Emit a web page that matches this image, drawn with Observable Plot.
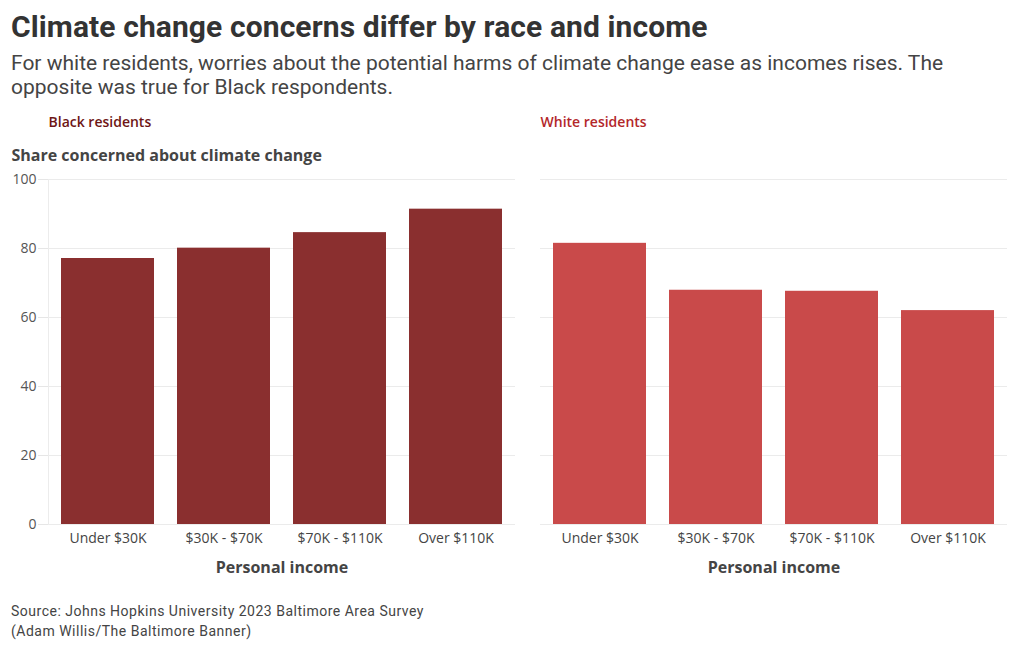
<!DOCTYPE html>
<html>
<head>
<meta charset="utf-8">
<script src="https://cdn.jsdelivr.net/npm/d3@7"></script>
<script src="https://cdn.jsdelivr.net/npm/@observablehq/plot@0.6"></script>
<style>
  html, body { margin: 0; padding: 0; background: #fff; }
  #wrap { width: 1020px; height: 650px; position: relative; }
  #title { position: absolute; left: 11px; top: 9px; font-family: Roboto, sans-serif; font-weight: 700; font-size: 30px; line-height: 36px; color: #333; letter-spacing: 0.1px; white-space: nowrap; }
  #subtitle { position: absolute; left: 11px; top: 51px; font-family: Roboto, sans-serif; font-size: 21px; line-height: 24px; color: #444; white-space: nowrap; }
  #chart { position: absolute; left: 0; top: 105px; width: 1020px; height: 480px; }
  #source { position: absolute; left: 11px; top: 601px; font-family: Roboto, sans-serif; font-size: 14px; line-height: 20px; color: #444; letter-spacing: 0.5px; }
</style>
</head>
<body>
<div id="wrap">
  <div id="title">Climate change concerns differ by race and income</div>
  <div id="subtitle">For white residents, worries about the potential harms of climate change ease as incomes rises. The<br>opposite was true for Black respondents.</div>
  <div id="chart"></div>
  <div id="source">Source: Johns Hopkins University 2023 Baltimore Area Survey<br>(Adam Willis/The Baltimore Banner)</div>
</div>
<script>
const groups = ["Black residents", "White residents"];
const incomes = ["Under $30K", "$30K - $70K", "$70K - $110K", "Over $110K"];
const blackValues = [77.1, 80.1, 84.6, 91.4];
const whiteValues = [81.5, 67.9, 67.6, 62.0];
const yTicks = [0, 20, 40, 60, 80, 100];
const yLabel = "Share concerned about climate change";
const xLabel = "Personal income";

const blackRows = incomes.map((income, i) => ({group: groups[0], income, value: blackValues[i]}));
const whiteRows = incomes.map((income, i) => ({group: groups[1], income, value: whiteValues[i]}));

const BLACK_BAR = "#8a2f2f";
const WHITE_BAR = "#c94a4a";

function build(withFrame) {
  const marks = [
    Plot.gridY(yTicks, {stroke: "#ebebeb", strokeOpacity: 1}),
    Plot.barY(blackRows, {fx: "group", x: "income", y: "value", fill: BLACK_BAR}),
    Plot.barY(whiteRows, {fx: "group", x: "income", y: "value", fill: WHITE_BAR}),
    Plot.axisY(yTicks, {tickSize: 10, tickPadding: 2, stroke: "#e6e6e6", fill: "#555", fontSize: 14, label: null}),
    Plot.axisX({tickSize: 0, tickPadding: 9, fill: "#444", fontSize: 14, label: null}),
    Plot.text([groups[0]], {fx: d => d, text: d => d, frameAnchor: "top-left", dy: -57, textAnchor: "start", lineAnchor: "middle", fontWeight: 600, fontSize: 14, fill: "#6e1616"}),
    Plot.text([groups[1]], {fx: d => d, text: d => d, frameAnchor: "top-left", dy: -57, textAnchor: "start", lineAnchor: "middle", fontWeight: 600, fontSize: 14, fill: "#b3272a"}),
    Plot.text([yLabel], {fx: () => groups[0], text: d => d, frameAnchor: "top-left", dx: -37, dy: -24, textAnchor: "start", lineAnchor: "middle", fontWeight: 700, fontSize: 16, fill: "#444"}),
    Plot.text(groups, {fx: d => d, text: () => xLabel, frameAnchor: "bottom", dy: 43, lineAnchor: "middle", fontWeight: 700, fontSize: 16, fill: "#444"})
  ];
  if (withFrame) marks.splice(1, 0, Plot.frame({anchor: "left", facetAnchor: "left", stroke: "#ececec"}));
  return Plot.plot({
    width: 1020,
    height: 480,
    marginLeft: 48,
    marginRight: 13,
    marginTop: 74,
    marginBottom: 61,
    style: {fontFamily: "'Open Sans', sans-serif", fontSize: "14px", background: "transparent"},
    fx: {domain: groups, paddingInner: 25 / 492, paddingOuter: 0, axis: null, label: null},
    x: {domain: incomes, paddingInner: 0.2, paddingOuter: 0.1, label: null},
    y: {domain: [0, 100], ticks: yTicks, label: null},
    marks
  });
}
let chart;
try { chart = build(true); } catch (e) { console.error(e); chart = build(false); }
document.getElementById("chart").appendChild(chart);
</script>
</body>
</html>
